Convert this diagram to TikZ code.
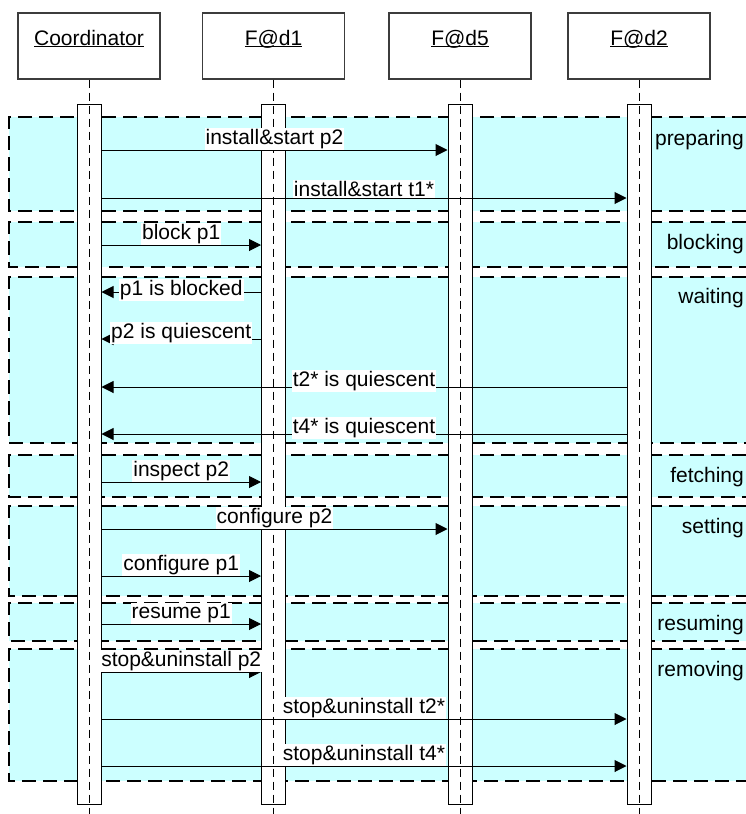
\documentclass[tikz,border=0pt]{standalone}
\usepackage{fontspec}
\setmainfont{Liberation Sans}
\usetikzlibrary{arrows.meta,positioning}
\definecolor{PhaseCyan}{HTML}{CCFFFF}
\definecolor{FrameGray}{HTML}{3C3C3C}
\newcommand{\actor}[1]{\underline{\smash{#1}}}
\tikzset{
  head/.style={draw=FrameGray, line width=1.2pt, fill=white, minimum width=142pt, minimum height=66pt, inner sep=0pt},
  bar/.style={draw=black, line width=1pt, fill=white, minimum width=24pt, minimum height=700pt, inner sep=0pt},
  lifeline/.style={draw=black, line width=0.9pt, dash pattern=on 8pt off 5pt},
  phasefill/.style={fill=PhaseCyan},
  phaseline/.style={draw=black, line width=2pt, dash pattern=on 14pt off 7pt},
  phaselabel/.style={anchor=base east, inner sep=0pt},
  msg/.style={-{Triangle[length=12pt, width=12pt]}, line width=1pt, draw=black},
  lbl/.style={fill=white, inner sep=1pt, above},
  replylbl/.style={fill=white, inner sep=1pt, above, yshift=-5pt}
}

\begin{document}
\begin{tikzpicture}[x=1pt, y=-1pt, every node/.style={font=\fontsize{21}{25}\selectfont}]
\useasboundingbox (0,0) rectangle (746,814);

% phases
\fill[phasefill] (9,117) rectangle (746,211);
\draw[phaseline] (746,117) -- (9,117) -- (9,211) -- (746,211);
\node[phaselabel] (preparing) at (744,145) {preparing};
\fill[phasefill] (9,222) rectangle (746,267);
\draw[phaseline] (746,222) -- (9,222) -- (9,267) -- (746,267);
\node[phaselabel] (blocking) at (744,249) {blocking};
\fill[phasefill] (9,277) rectangle (746,443);
\draw[phaseline] (746,277) -- (9,277) -- (9,443) -- (746,443);
\node[phaselabel] (waiting) at (744,303) {waiting};
\fill[phasefill] (9,455) rectangle (746,497);
\draw[phaseline] (746,455) -- (9,455) -- (9,497) -- (746,497);
\node[phaselabel] (fetching) at (744,482) {fetching};
\fill[phasefill] (9,506) rectangle (746,596);
\draw[phaseline] (746,506) -- (9,506) -- (9,596) -- (746,596);
\node[phaselabel] (setting) at (744,533) {setting};
\fill[phasefill] (9,603) rectangle (746,641);
\draw[phaseline] (746,603) -- (9,603) -- (9,641) -- (746,641);
\node[phaselabel] (resuming) at (744,630) {resuming};
\fill[phasefill] (9,649) rectangle (746,781);
\draw[phaseline] (746,649) -- (9,649) -- (9,781) -- (746,781);
\node[phaselabel] (removing) at (744,676) {removing};

% participants
\node[head] (coord) at (89,46) {\actor{Coordinator}};
\node[head] (fd1) at (273.5,46) {\actor{F@d1}};
\node[head] (fd5) at (460,46) {\actor{F@d5}};
\node[head] (fd2) at (639,46) {\actor{F@d2}};

\node[bar, below=24pt of coord] (coordbar) {};
\node[bar, below=24pt of fd1] (fd1bar) {};
\node[bar, below=24pt of fd5] (fd5bar) {};
\node[bar, below=24pt of fd2] (fd2bar) {};

\coordinate (floor) at (0,814);
\draw[lifeline] (coord.south) -- (coord.south |- floor);
\draw[lifeline] (fd1.south) -- (fd1.south |- floor);
\draw[lifeline] (fd5.south) -- (fd5.south |- floor);
\draw[lifeline] (fd2.south) -- (fd2.south |- floor);

% messages
\draw[msg] (coordbar.east |- 0,150) -- (fd5bar.west |- 0,150) node[lbl, midway] (m1) {install\&start p2};
\draw[msg] (coordbar.east |- 0,198) -- (fd2bar.west |- 0,198) node[lbl, midway] (m2) {install\&start t1*};
\draw[msg] (coordbar.east |- 0,245) -- (fd1bar.west |- 0,245) node[lbl, midway] (m3) {block p1};
\draw[msg] (fd1bar.west |- 0,292) -- (coordbar.east |- 0,292) node[replylbl, midway, yshift=-4pt] (m4) {p1 is blocked};
\draw[msg] (fd1bar.west |- 0,339) -- (coordbar.east |- 0,339) node[replylbl, midway] (m5) {p2 is quiescent};
\draw[msg] (fd2bar.west |- 0,387) -- (coordbar.east |- 0,387) node[replylbl, midway] (m6) {t2* is quiescent};
\draw[msg] (fd2bar.west |- 0,434) -- (coordbar.east |- 0,434) node[replylbl, midway] (m7) {t4* is quiescent};
\draw[msg] (coordbar.east |- 0,482) -- (fd1bar.west |- 0,482) node[lbl, midway] (m8) {inspect p2};
\draw[msg] (coordbar.east |- 0,529) -- (fd5bar.west |- 0,529) node[lbl, midway] (m9) {configure p2};
\draw[msg] (coordbar.east |- 0,576) -- (fd1bar.west |- 0,576) node[lbl, midway] (m10) {configure p1};
\draw[msg] (coordbar.east |- 0,624) -- (fd1bar.west |- 0,624) node[lbl, midway] (m11) {resume p1};
\draw[msg] (coordbar.east |- 0,672) -- (fd1bar.west |- 0,672) node[lbl, midway] (m12) {stop\&uninstall p2};
\draw[msg] (coordbar.east |- 0,719) -- (fd2bar.west |- 0,719) node[lbl, midway] (m13) {stop\&uninstall t2*};
\draw[msg] (coordbar.east |- 0,766) -- (fd2bar.west |- 0,766) node[lbl, midway] (m14) {stop\&uninstall t4*};
\end{tikzpicture}
\end{document}
